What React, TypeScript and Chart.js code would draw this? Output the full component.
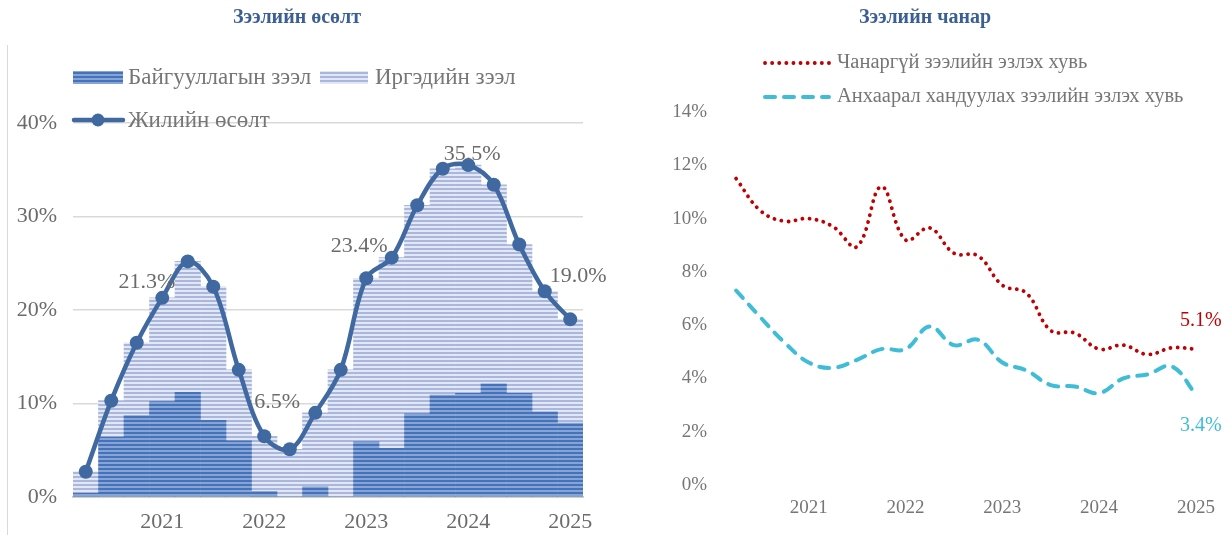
import React, { useEffect, useRef } from 'react';
import { Chart, registerables } from 'chart.js';

Chart.register(...registerables);

// ---- data ----
const quarters = ['', '', '', '2021', '', '', '', '2022', '', '', '', '2023', '', '', '', '2024', '', '', '', '2025'];
const orgLoans = [0.4, 6.4, 8.7, 10.2, 11.2, 8.2, 6.0, 0.6, 0.0, 1.1, 0.0, 5.9, 5.2, 8.9, 10.9, 11.1, 12.1, 11.1, 9.1, 7.9];
const indLoans = [2.3, 3.9, 7.8, 11.1, 14.0, 14.3, 7.6, 5.9, 5.1, 7.9, 13.6, 17.5, 20.4, 22.3, 24.2, 24.4, 21.3, 15.9, 12.9, 11.1];
const growth = [2.7, 10.3, 16.5, 21.3, 25.2, 22.5, 13.6, 6.5, 5.1, 9.0, 13.6, 23.4, 25.6, 31.2, 35.1, 35.5, 33.4, 27.0, 22.0, 19.0];
const growthLabelIdx = [3, 7, 11, 15, 19];
const nplShare = [11.5, 10.3, 9.9, 10.0, 9.7, 8.95, 11.2, 9.2, 9.65, 8.7, 8.6, 7.5, 7.2, 5.8, 5.7, 5.1, 5.25, 4.9, 5.15, 5.1];
const watchShare = [7.3, 6.3, 5.35, 4.6, 4.4, 4.7, 5.1, 5.1, 5.95, 5.25, 5.45, 4.6, 4.3, 3.75, 3.7, 3.45, 4.0, 4.15, 4.45, 3.4];

const titleLeft = 'Зээлийн өсөлт';
const titleRight = 'Зээлийн чанар';
const orgLabel = 'Байгууллагын зээл';
const indLabel = 'Иргэдийн зээл';
const growthLabel = 'Жилийн өсөлт';
const nplLabel = 'Чанаргүй зээлийн эзлэх хувь';
const watchLabel = 'Анхаарал хандуулах зээлийн эзлэх хувь';

// ---- styles ----
const SERIF = "'Liberation Serif', 'Times New Roman', serif";
const GRAY = '#767676';
const TITLE_BLUE = '#3b5f95';
const LINE_BLUE = '#3f69a0';
const RED = '#c00000';
const CYAN = '#3fbdd6';

function makePattern(c1: string, c2: string): CanvasPattern | string {
  const p = document.createElement('canvas');
  p.width = 4;
  p.height = 4;
  const g = p.getContext('2d');
  if (!g) return c1;
  g.fillStyle = c1;
  g.fillRect(0, 0, 4, 2);
  g.fillStyle = c2;
  g.fillRect(0, 2, 4, 2);
  const ctx = document.createElement('canvas').getContext('2d');
  return (ctx && ctx.createPattern(p, 'repeat')) || c1;
}

const leftDecor = {
  id: 'leftDecor',
  afterDatasetsDraw(chart: any) {
    const ctx = chart.ctx;
    ctx.save();
    // title
    ctx.font = `bold 20px ${SERIF}`;
    ctx.fillStyle = TITLE_BLUE;
    ctx.textAlign = 'center';
    ctx.textBaseline = 'middle';
    ctx.fillText(titleLeft, 297, 18);

    // legend
    const ds = chart.data.datasets;
    ctx.font = `23px ${SERIF}`;
    ctx.textAlign = 'left';
    ctx.fillStyle = ds[1].backgroundColor;
    ctx.fillRect(73, 71, 50, 13);
    ctx.fillStyle = GRAY;
    ctx.fillText(ds[1].label, 128, 78);
    ctx.fillStyle = ds[2].backgroundColor;
    ctx.fillRect(320, 71, 48, 13);
    ctx.fillStyle = GRAY;
    ctx.fillText(ds[2].label, 375, 78);
    ctx.strokeStyle = LINE_BLUE;
    ctx.lineWidth = 4.5;
    ctx.lineCap = 'round';
    ctx.beginPath();
    ctx.moveTo(74, 120);
    ctx.lineTo(123, 120);
    ctx.stroke();
    ctx.fillStyle = LINE_BLUE;
    ctx.beginPath();
    ctx.arc(98, 120, 6.5, 0, Math.PI * 2);
    ctx.fill();
    ctx.fillStyle = GRAY;
    ctx.fillText(ds[0].label, 128, 121);

    // data labels
    const meta = chart.getDatasetMeta(0);
    ctx.font = `22px ${SERIF}`;
    ctx.fillStyle = '#6b6b6b';
    const offs: Record<number, [number, number, string]> = {
      3: [13, -16, 'right'],
      7: [-10, -34, 'left'],
      11: [-7, -32, 'center'],
      15: [4, -11, 'center'],
      19: [8, -43, 'center'],
    };
    growthLabelIdx.forEach((i) => {
      const pt = meta.data[i];
      const o = offs[i];
      ctx.textAlign = o[2];
      ctx.fillText(growth[i].toFixed(1) + '%', pt.x + o[0], pt.y + o[1]);
    });
    ctx.restore();
  },
};

const rightDecor = {
  id: 'rightDecor',
  afterDatasetsDraw(chart: any) {
    const ctx = chart.ctx;
    ctx.save();
    ctx.font = `bold 20px ${SERIF}`;
    ctx.fillStyle = TITLE_BLUE;
    ctx.textAlign = 'center';
    ctx.textBaseline = 'middle';
    ctx.fillText(titleRight, 310, 18);

    const ds = chart.data.datasets;
    ctx.font = `20.5px ${SERIF}`;
    ctx.textAlign = 'left';
    // legend line samples
    [0, 1].forEach((k) => {
      const y = k === 0 ? 63 : 97;
      const d = ds[k];
      ctx.strokeStyle = d.borderColor;
      ctx.lineWidth = d.borderWidth;
      ctx.lineCap = d.borderCapStyle;
      ctx.setLineDash(d.borderDash);
      ctx.beginPath();
      ctx.moveTo(150, y);
      ctx.lineTo(214, y);
      ctx.stroke();
      ctx.setLineDash([]);
      ctx.fillStyle = GRAY;
      ctx.fillText(d.label, 222, y);
    });

    // end labels
    ctx.font = `20px ${SERIF}`;
    ctx.textAlign = 'center';
    const m0 = chart.getDatasetMeta(0).data[nplShare.length - 1];
    const m1 = chart.getDatasetMeta(1).data[watchShare.length - 1];
    ctx.fillStyle = RED;
    ctx.fillText(nplShare[nplShare.length - 1].toFixed(1) + '%', m0.x + 5, m0.y - 28);
    ctx.fillStyle = CYAN;
    ctx.fillText(watchShare[watchShare.length - 1].toFixed(1) + '%', m1.x + 5, m1.y + 31);
    ctx.restore();
  },
};

export default function App() {
  const leftRef = useRef<HTMLCanvasElement>(null);
  const rightRef = useRef<HTMLCanvasElement>(null);

  useEffect(() => {
    if (!leftRef.current || !rightRef.current) return;
    const darkPat = makePattern('#4672ba', '#86a4d6');
    const lightPat = makePattern('#a9b7dc', '#e2e7f3');

    const left = new Chart(leftRef.current, {
      type: 'bar',
      data: {
        labels: quarters,
        datasets: [
          {
            type: 'line',
            label: growthLabel,
            data: growth,
            borderColor: LINE_BLUE,
            backgroundColor: LINE_BLUE,
            borderWidth: 4.5,
            pointRadius: 7,
            pointBackgroundColor: LINE_BLUE,
            pointBorderWidth: 0,
            tension: 0.35,
            order: 0,
            stack: 'growth',
          } as any,
          {
            label: orgLabel,
            data: orgLoans,
            backgroundColor: darkPat as any,
            barPercentage: 1,
            categoryPercentage: 1,
            order: 1,
            stack: 'loans',
          },
          {
            label: indLabel,
            data: indLoans,
            backgroundColor: lightPat as any,
            barPercentage: 1,
            categoryPercentage: 1,
            order: 1,
            stack: 'loans',
          },
        ],
      },
      options: {
        responsive: false,
        animation: false,
        layout: { padding: { top: 123, right: 32, left: 0, bottom: 0 } },
        plugins: { legend: { display: false }, tooltip: { enabled: false }, title: { display: false } },
        scales: {
          x: {
            stacked: true,
            grid: { display: false, drawTicks: false },
            border: { display: true, color: '#cfcfcf', width: 2 },
            ticks: { autoSkip: false, maxRotation: 0, padding: 12, color: '#6b6b6b', font: { family: SERIF, size: 22 } },
            afterFit: (s: any) => { s.height = 38; },
          },
          y: {
            stacked: true,
            min: 0,
            max: 40,
            ticks: { stepSize: 10, padding: 16, color: '#6b6b6b', font: { family: SERIF, size: 22 }, callback: (v: any) => v + '%' },
            grid: { color: '#d9d9d9', lineWidth: 1.5, drawTicks: false },
            border: { display: false },
            afterFit: (s: any) => { s.width = 73; },
          },
        },
      },
      plugins: [leftDecor],
    });

    const right = new Chart(rightRef.current, {
      type: 'line',
      data: {
        labels: quarters,
        datasets: [
          {
            label: nplLabel,
            data: nplShare,
            borderColor: RED,
            borderWidth: 3.8,
            borderDash: [0.1, 7],
            borderCapStyle: 'round',
            pointRadius: 0,
            tension: 0.4,
          },
          {
            label: watchLabel,
            data: watchShare,
            borderColor: CYAN,
            borderWidth: 4,
            borderDash: [10, 9],
            borderCapStyle: 'round',
            pointRadius: 0,
            tension: 0.4,
          },
        ],
      },
      options: {
        responsive: false,
        animation: false,
        layout: { padding: { top: 112, right: 21, left: 0, bottom: 0 } },
        plugins: { legend: { display: false }, tooltip: { enabled: false }, title: { display: false } },
        scales: {
          x: {
            offset: true,
            grid: { display: false, drawTicks: false },
            border: { display: false },
            ticks: { autoSkip: false, maxRotation: 0, padding: 12, color: '#767676', font: { family: SERIF, size: 19 } },
            afterFit: (s: any) => { s.height = 50; },
          },
          y: {
            min: 0,
            max: 14,
            ticks: { stepSize: 2, padding: 17, color: '#767676', font: { family: SERIF, size: 19 }, callback: (v: any) => v + '%' },
            grid: { display: false, drawTicks: false },
            border: { display: false },
            afterFit: (s: any) => { s.width = 109; },
          },
        },
      },
      plugins: [rightDecor],
    });

    return () => {
      left.destroy();
      right.destroy();
    };
  }, []);

  return (
    <div style={{ position: 'fixed', left: 0, top: 0, width: 1229, height: 535, background: '#fff', overflow: 'hidden' }}>
      <div style={{ position: 'absolute', left: 7, top: 45, width: 1, height: 490, background: '#d9d9d9' }} />
      <canvas ref={leftRef} width={615} height={535} style={{ position: 'absolute', left: 0, top: 0, display: 'block' }} />
      <canvas ref={rightRef} width={614} height={535} style={{ position: 'absolute', left: 615, top: 0, display: 'block' }} />
    </div>
  );
}
